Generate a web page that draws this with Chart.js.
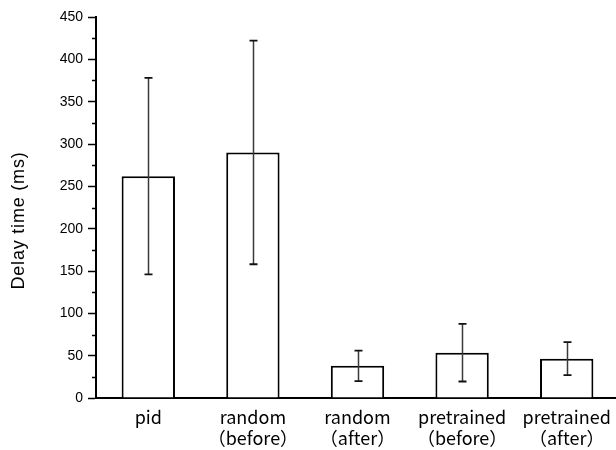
<!DOCTYPE html>
<html>
<head>
<meta charset="utf-8">
<script src="https://cdn.jsdelivr.net/npm/chart.js@4/dist/chart.umd.min.js"></script>
<style>
  html, body { margin: 0; padding: 0; background: #fff; overflow: hidden; }
  #wrap { width: 616px; height: 450px; overflow: hidden; }
  canvas { display: block; }
</style>
</head>
<body>
<div id="wrap"><canvas id="c" width="622" height="450"></canvas></div>
<script>
// Mean delay per controller and its spread (ms)
const categories = [
  ['pid'],
  ['random', '（before）'],
  ['random', '（after）'],
  ['pretrained', '（before）'],
  ['pretrained', '（after）']
];
const delayMean = [262, 290, 38, 53.5, 46.5];
const delayErr = [116, 132, 18, 34, 19.5];
const yTicks = [0, 50, 100, 150, 200, 250, 300, 350, 400, 450];
const yMinorTicks = [25, 75, 125, 175, 225, 275, 325, 375, 425];
const yTitle = 'Delay time (ms)';

// Error bars with caps, placed on each bar's centre
const errorBars = {
  id: 'errorBars',
  afterDatasetsDraw(chart) {
    const ctx = chart.ctx;
    const y = chart.scales.y;
    const meta = chart.getDatasetMeta(0);
    ctx.save();
    meta.data.forEach((bar, i) => {
      const x = Math.round(bar.x) + 0.5;
      const top = y.getPixelForValue(delayMean[i] + delayErr[i]);
      const bot = y.getPixelForValue(delayMean[i] - delayErr[i]);
      ctx.strokeStyle = '#3a3a3a';
      ctx.lineWidth = 1.5;
      ctx.beginPath();
      ctx.moveTo(x, top);
      ctx.lineTo(x, bot);
      ctx.stroke();
      ctx.strokeStyle = '#111';
      ctx.lineWidth = 1.8;
      ctx.beginPath();
      ctx.moveTo(x - 4, top); ctx.lineTo(x + 4, top);
      ctx.moveTo(x - 4, bot); ctx.lineTo(x + 4, bot);
      ctx.stroke();
    });
    ctx.restore();
  }
};

// Short minor ticks between labelled values, plus the rotated axis title
const axisExtras = {
  id: 'axisExtras',
  afterDraw(chart) {
    const ctx = chart.ctx;
    const y = chart.scales.y;
    const left = chart.chartArea.left;
    ctx.save();
    ctx.strokeStyle = '#000';
    ctx.lineWidth = 1.5;
    ctx.beginPath();
    yMinorTicks.forEach(v => {
      const py = Math.round(y.getPixelForValue(v)) + 0.5;
      ctx.moveTo(left - 4, py);
      ctx.lineTo(left, py);
    });
    ctx.stroke();

    ctx.translate(19, (chart.chartArea.top + chart.chartArea.bottom) / 2 + 13);
    ctx.rotate(-Math.PI / 2);
    ctx.fillStyle = '#000';
    ctx.font = '18px "Liberation Sans", Arial, sans-serif';
    if ('letterSpacing' in ctx) ctx.letterSpacing = '0.8px';
    ctx.textAlign = 'center';
    ctx.textBaseline = 'middle';
    ctx.fillText(yTitle, 0, 0);
    ctx.restore();
  }
};

new Chart(document.getElementById('c'), {
  type: 'bar',
  data: {
    labels: categories,
    datasets: [{
      data: delayMean,
      backgroundColor: '#ffffff',
      borderColor: '#000000',
      borderWidth: 2,
      barPercentage: 0.51,
      categoryPercentage: 1.0
    }]
  },
  options: {
    responsive: false,
    animation: false,
    devicePixelRatio: 1,
    layout: { padding: { top: 17, right: 3, bottom: 0, left: 0 } },
    plugins: {
      legend: { display: false },
      tooltip: { enabled: false },
      title: { display: false }
    },
    scales: {
      x: {
        grid: { display: false },
        border: { display: true, color: '#000', width: 2 },
        ticks: {
          color: '#000',
          padding: 1,
          maxRotation: 0,
          autoSkip: false,
          font: { family: '"Noto Sans CJK JP", "Noto Sans", sans-serif', size: 18, lineHeight: 1.17 }
        },
        afterFit(scale) { scale.height = 52; }
      },
      y: {
        min: 0,
        max: 450,
        afterBuildTicks(scale) { scale.ticks = yTicks.map(v => ({ value: v })); },
        grid: {
          display: true,
          drawOnChartArea: false,
          drawTicks: true,
          tickLength: 8,
          tickWidth: 1.5,
          tickColor: '#000'
        },
        border: { display: true, color: '#000', width: 2 },
        ticks: {
          color: '#000',
          padding: 5,
          font: { family: '"Liberation Sans", Arial, sans-serif', size: 14 }
        },
        afterFit(scale) { scale.width = 96; }
      }
    }
  },
  plugins: [errorBars, axisExtras]
});
</script>
</body>
</html>
